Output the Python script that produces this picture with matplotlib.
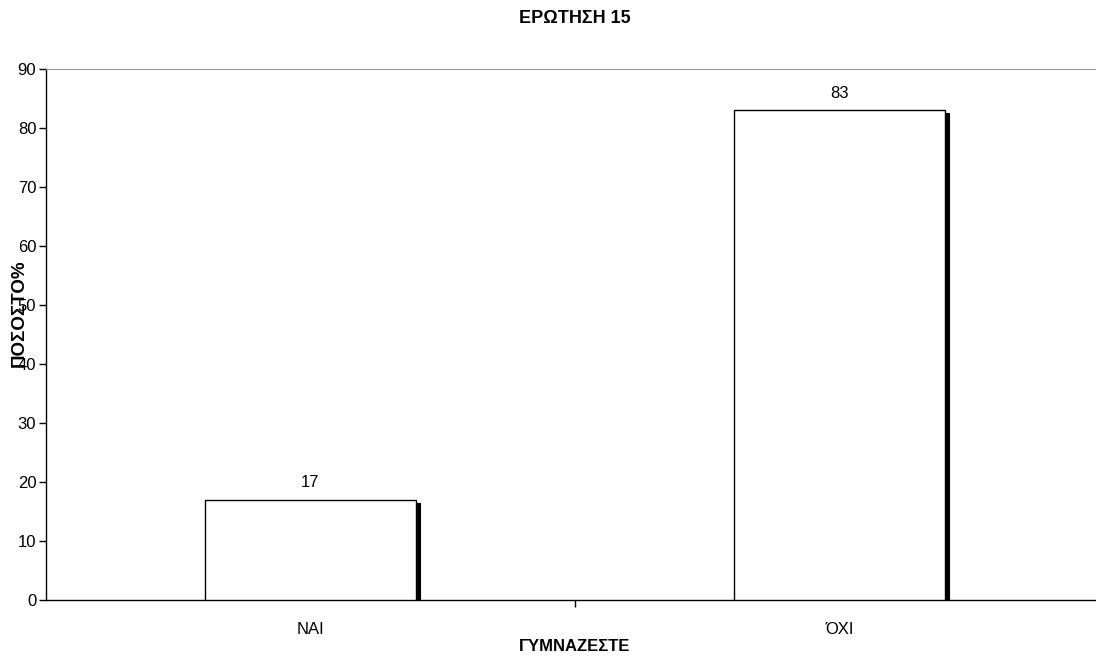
import matplotlib
matplotlib.use("Agg")
import matplotlib.pyplot as plt
import matplotlib.transforms as mtransforms

# Datos
categorias = ["ΝΑΙ", "ΌΧΙ"]
valores = [17, 83]
y_ticks = [0, 10, 20, 30, 40, 50, 60, 70, 80, 90]

plt.rcParams["font.family"] = ["Liberation Sans", "DejaVu Sans"]

fig = plt.figure(figsize=(10.96, 6.62), dpi=100)
ax = fig.add_axes([46 / 1096, 62 / 662, 1058 / 1096, 531 / 662])

pos = list(range(len(categorias)))
ancho = 0.4

# Sombra desplazada (a la derecha y abajo)
sombra = ax.transData + mtransforms.ScaledTranslation(0.04, -0.03, fig.dpi_scale_trans)
ax.bar(pos, valores, width=ancho, color="black", edgecolor="black",
       linewidth=0.8, transform=sombra, zorder=2)
ax.bar(pos, valores, width=ancho, color="white", edgecolor="black",
       linewidth=1.0, zorder=3)

for p, v in zip(pos, valores):
    ax.annotate(str(v), (p, v), xytext=(0, 7), textcoords="offset points",
                ha="center", va="bottom", fontsize=12)

ax.set_xlim(-0.5, len(categorias) - 0.5)
ax.set_ylim(0, 90)
ax.set_yticks(y_ticks)
ax.tick_params(axis="y", labelsize=12, length=5, pad=2, width=1)

ax.set_xticks(pos)
ax.set_xticklabels(categorias, fontsize=12)
ax.tick_params(axis="x", length=0, pad=16)
ax.set_xticks([0.5], minor=True)
ax.tick_params(axis="x", which="minor", length=5, width=1)

ax.spines["top"].set_color("#999999")
ax.spines["right"].set_visible(False)
ax.spines["left"].set_linewidth(1)
ax.spines["bottom"].set_linewidth(1)

ax.set_title("ΕΡΩΤΗΣΗ 15", fontsize=13, fontweight="bold", pad=33)
ax.set_xlabel("ΓΥΜΝΑΖΕΣΤΕ", fontsize=12, fontweight="bold", labelpad=1)
ax.set_ylabel("ΠΟΣΟΣΤΟ%", fontsize=13.5, fontweight="bold")
ax.yaxis.set_label_coords(-0.017, 0.54)

fig.savefig("out.png", dpi=100)
